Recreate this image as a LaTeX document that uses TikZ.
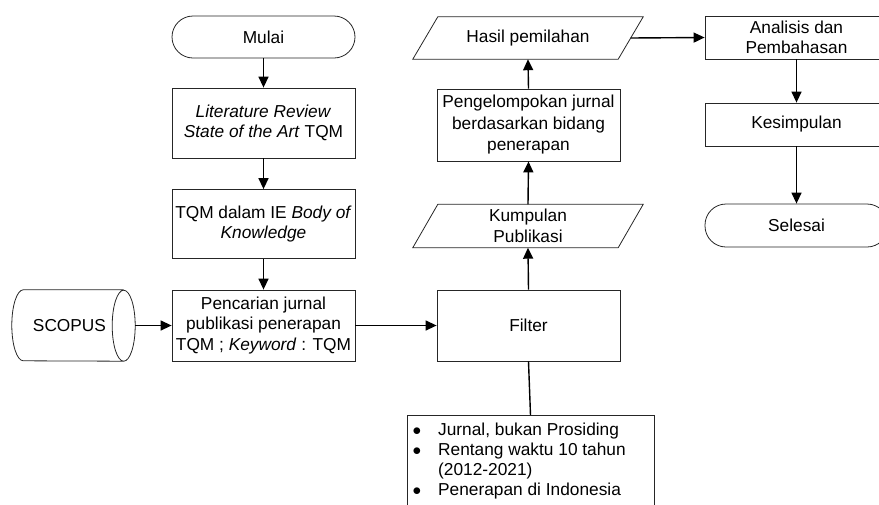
\documentclass[tikz,border=0pt]{standalone}
\usepackage{fontspec}
\setmainfont{Liberation Sans}
\usetikzlibrary{arrows.meta}
\begin{document}
\begin{tikzpicture}[x=1pt,y=-1pt,
  base/.style={font=\fontsize{17.3}{20.5}\selectfont, align=center, inner sep=0pt},
  proc/.style={base, draw=black!85, line width=0.8pt, rectangle, minimum width=183pt},
  term/.style={base, draw=black!85, line width=0.8pt, rectangle, rounded corners=21pt, minimum width=183pt, minimum height=42pt},
  para/.style={base, minimum width=205pt, minimum height=43pt},
  paraline/.style={draw=black!85, line width=0.8pt},
  arr/.style={line width=1.4pt, -{Triangle[length=11pt,width=10pt]}},
  plain/.style={line width=1.4pt}
]
\useasboundingbox (0,0) rectangle (879,504);

% left column
\node[term] (mulai) at (263.5,37) {Mulai};
\node[proc, minimum height=70pt] (lit) at (263.5,123) {\textit{Literature Review}\\\textit{State of the Art} TQM};
\node[proc, minimum height=69pt] (tqm) at (263.5,224) {TQM dalam IE \textit{Body of}\\\textit{Knowledge}};
\node[proc, minimum height=71pt] (cari) at (263.5,325.5) {Pencarian jurnal\\publikasi penerapan\\TQM ; \textit{Keyword} : TQM};

% SCOPUS cylinder
\node[minimum width=123pt, minimum height=71pt, inner sep=0pt] (scopus) at (73.5,325.5) {};
\node[base] (scopustxt) at (69.5,325.5) {SCOPUS};
\draw[paraline] ([xshift=-11.5pt]scopus.north east) -- ([xshift=11.5pt]scopus.north west)
  arc[start angle=90, end angle=270, x radius=11.5pt, y radius=35.5pt]
  -- ([xshift=-11.5pt]scopus.south east)
  arc[start angle=-90, end angle=90, x radius=11.5pt, y radius=35.5pt]
  arc[start angle=90, end angle=270, x radius=11.5pt, y radius=35.5pt];

% middle column
\node[proc, minimum height=71pt] (filter) at (528.5,325.5) {Filter};
\node[para] (kumpul) at (528,226) {Kumpulan\\Publikasi};
\draw[paraline] ([xshift=-12.5pt]kumpul.south west) -- ([xshift=12.5pt]kumpul.north west) -- ([xshift=12.5pt]kumpul.north east) -- ([xshift=-12.5pt]kumpul.south east) -- cycle;
\node[proc, minimum height=72pt, font=\fontsize{17.3}{21.5}\selectfont] (kelompok) at (528.5,125) {Pengelompokan jurnal\\berdasarkan bidang\\penerapan};
\node[para, minimum height=42pt] (hasil) at (528,38) {Hasil pemilahan};
\draw[paraline] ([xshift=-12.5pt]hasil.south west) -- ([xshift=12.5pt]hasil.north west) -- ([xshift=12.5pt]hasil.north east) -- ([xshift=-12.5pt]hasil.south east) -- cycle;

% criteria box
\node[draw=black!85, line width=0.8pt, rectangle, minimum width=247pt, minimum height=110pt, anchor=north, inner sep=0pt] (krit) at (530.5,415) {};
\node[base, anchor=north west, align=left] (kritxt) at (412.5,421) {\fontsize{17.3}{20}\selectfont
\begin{tabular}{@{}l@{}l@{}}
\makebox[25.5pt][l]{$\bullet$} & Jurnal, bukan Prosiding\\
\makebox[25.5pt][l]{$\bullet$} & Rentang waktu 10 tahun\\
 & (2012-2021)\\
\makebox[25.5pt][l]{$\bullet$} & Penerapan di Indonesia
\end{tabular}};

% right column
\node[proc, minimum height=43pt] (analisis) at (796.5,37.5) {Analisis dan\\Pembahasan};
\node[proc, minimum height=43pt] (kesimpulan) at (796.5,124.5) {Kesimpulan};
\node[term, minimum height=43pt] (selesai) at (796.5,225.5) {Selesai};

% connectors
\draw[arr] (mulai) -- (lit);
\draw[arr] (lit) -- (tqm);
\draw[arr] (tqm) -- (cari);
\draw[arr] (scopus.east) -- (cari.west);
\draw[arr] (cari.east) -- (filter.west);
\draw[arr] (filter.north) -- (kumpul.south);
\draw[arr] (kumpul.north) -- (kelompok.south);
\draw[arr] (kelompok.north) -- (hasil.south);
\draw[arr] (hasil.east) -- (analisis.west);
\draw[arr] (analisis) -- (kesimpulan);
\draw[arr] (kesimpulan) -- (selesai);
\draw[plain] (filter.south) -- (krit.north);
\end{tikzpicture}
\end{document}
